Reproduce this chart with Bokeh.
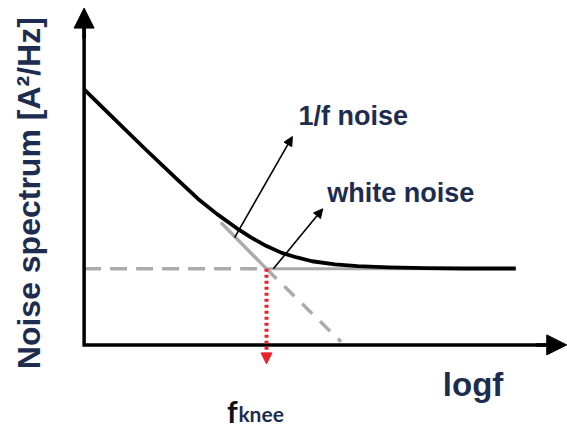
from bokeh.plotting import figure
from bokeh.models import Range1d, Label, Arrow, NormalHead
from bokeh.embed import file_html
from bokeh.resources import INLINE

# Sketch of a noise spectrum on log-log axes: 1/f noise + white noise floor.
# x: log f (decades from the origin), y: log of noise power (decades).

knee_logf = 2.4          # corner frequency, where the 1/f line meets the floor
white_level = 1.0        # white-noise floor

# 1/f asymptote (solid part up to the knee, dashed continuation below the floor)
onef_solid_x = [1.8, 2.4]
onef_solid_y = [1.61, 1.0]
onef_dash_x = [2.4, 3.38]
onef_dash_y = [1.0, 0.04]

# white-noise floor (dashed left of the knee, solid right of it)
white_dash_x = [0.0, 2.4]
white_solid_x = [2.4, 5.66]

# total noise spectrum
total_x = [0.00, 0.40, 0.80, 1.20, 1.50, 1.75, 2.00, 2.20, 2.40, 2.60,
           2.80, 3.00, 3.30, 3.60, 4.00, 4.50, 5.00, 5.68]
total_y = [3.36, 2.97, 2.58, 2.20, 1.92, 1.72, 1.54, 1.41, 1.30, 1.21,
           1.15, 1.10, 1.06, 1.035, 1.02, 1.01, 1.005, 1.005]

# axis extents
axis_x_max = 6.35
axis_y_max = 4.43

TEXT = "#1d2c4f"
GRAY = "#ababab"
RED = "#e8232e"

p = figure(width=567, height=428,
           x_range=Range1d(-1.1, 6.36), y_range=Range1d(-1.1, 4.53),
           output_backend="svg", toolbar_location=None,
           x_axis_location=None, y_axis_location=None,
           min_border=0, outline_line_color=None,
           background_fill_color="white", border_fill_color="white")
p.xgrid.grid_line_color = None
p.ygrid.grid_line_color = None

# component asymptotes
p.line(white_dash_x, [white_level, white_level], line_color=GRAY,
       line_width=3.5, line_dash="17 9")
p.line(white_solid_x, [white_level, white_level], line_color=GRAY, line_width=3)
p.line(onef_solid_x, onef_solid_y, line_color=GRAY, line_width=3.5)
p.line(onef_dash_x, onef_dash_y, line_color=GRAY, line_width=3.5,
       line_dash="14 11")

# total spectrum
p.line(total_x, total_y, line_color="black", line_width=3.8, line_join="round")

# axes with arrow heads
p.line([0, 0, axis_x_max - 0.2], [axis_y_max - 0.2, 0, 0], line_color="black",
       line_width=3.5, line_join="miter")
p.add_layout(Arrow(x_start=0, y_start=axis_y_max - 0.4, x_end=0, y_end=axis_y_max,
                   line_color="black", line_width=3.5,
                   end=NormalHead(size=20, fill_color="black", line_color="black")))
p.add_layout(Arrow(x_start=axis_x_max - 0.4, y_start=0, x_end=axis_x_max, y_end=0,
                   line_color="black", line_width=3.5,
                   end=NormalHead(size=20, fill_color="black", line_color="black")))

# knee marker: dotted red drop to the frequency axis
p.add_layout(Arrow(x_start=knee_logf, y_start=white_level, x_end=knee_logf, y_end=-0.25,
                   line_color=RED, line_width=4, line_dash="3 3",
                   end=NormalHead(size=11, fill_color=RED, line_color=RED)))

# pointer arrows for the component labels
p.add_layout(Arrow(x_start=1.98, y_start=1.41, x_end=2.74, y_end=2.74,
                   line_color="black", line_width=1.6,
                   end=NormalHead(size=9, fill_color="black", line_color="black")))
p.add_layout(Arrow(x_start=2.49, y_start=1.0, x_end=3.14, y_end=1.79,
                   line_color="black", line_width=1.6,
                   end=NormalHead(size=9, fill_color="black", line_color="black")))

def label(x, y, text, size, color=TEXT, font="Liberation Sans", angle=0):
    p.add_layout(Label(x=x, y=y, text=text, text_font=font,
                       text_font_size=f"{size}px", text_font_style="bold",
                       text_color=color, text_align="left",
                       text_baseline="alphabetic", angle=angle))

label(2.82, 3.01, "1/f noise", 27)
label(3.20, 2.00, "white noise", 27)
label(4.72, -0.515, "logf", 33)
label(1.88, -0.87, "f", 30, color="#111111", font="Lato")
label(2.03, -0.90, "knee", 21, font="Lato")
label(-0.72, -0.32, "Noise spectrum [A²/Hz]", 32, angle=1.5708)

open("out.html", "w").write(file_html(p, INLINE))
